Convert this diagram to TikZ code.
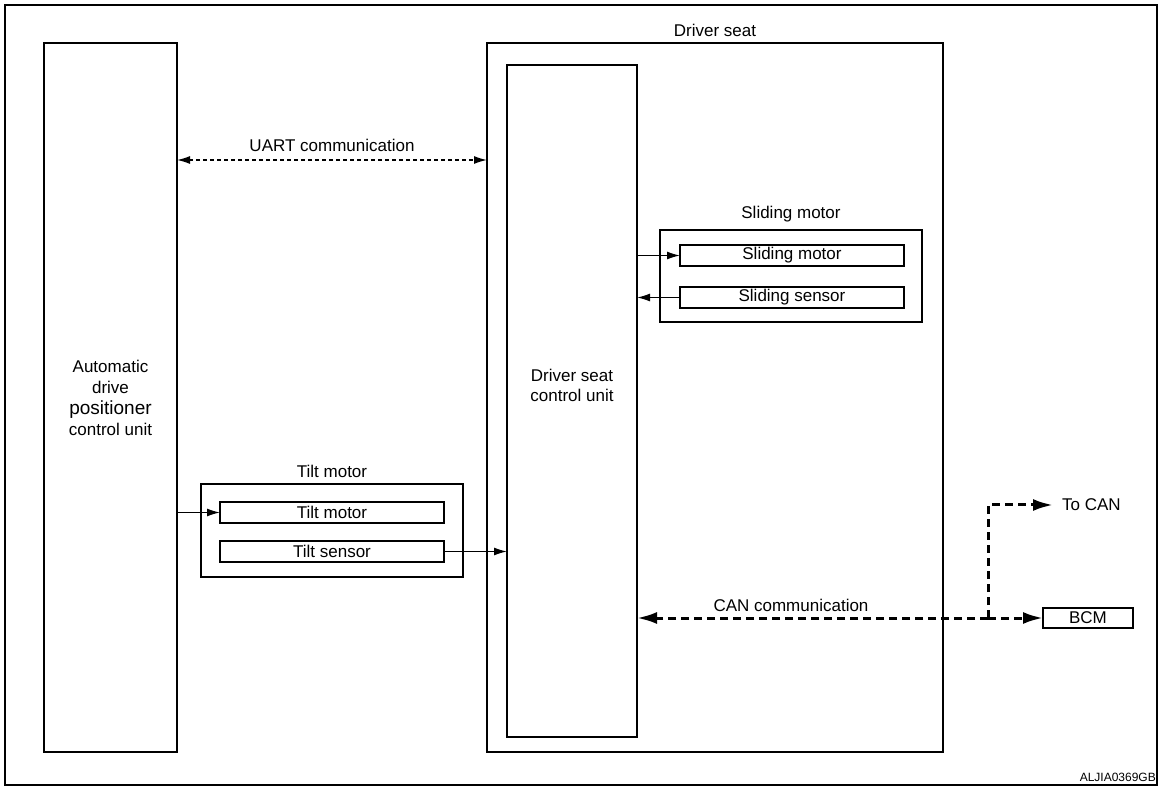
\documentclass[tikz,border=0pt]{standalone}
\usepackage{fontspec}
\setmainfont{Liberation Sans}
\usetikzlibrary{arrows.meta}
\begin{document}
\begin{tikzpicture}[x=1pt,y=-1pt,
  box/.style={draw, line width=1.3pt, inner sep=0pt, outer sep=0pt, anchor=north west, font=\fontsize{17}{19}\selectfont},
  lbl/.style={inner sep=0pt, font=\fontsize{17}{19}\selectfont},
  sarr/.style={-{Latex[length=13pt,width=8pt]}, line width=1.3pt},
  uart/.style={{Latex[length=13pt,width=8pt]}-{Latex[length=13pt,width=8pt]}, dash pattern=on 4pt off 3pt, line width=1.3pt},
  can/.style={-{Latex[length=20pt,width=12pt]}, dash pattern=on 8pt off 5pt, line width=3pt}]
\useasboundingbox (0,0) rectangle (1163,791);
\draw[line width=1.5pt] (5,5) rectangle (1157,785);
\draw[line width=2.5pt] (5,785) -- (1157,785);

% Automatic drive positioner control unit
\node[box, minimum width=133pt, minimum height=709pt] (adpcu) at (44,43) {};
\node[lbl, align=center, font=\fontsize{17}{21}\selectfont] (adpcutext) at (adpcu.center)
  {Automatic\\drive\\{\fontsize{19}{21}\selectfont positioner}\\control unit};

% Driver seat
\node[box, minimum width=456pt, minimum height=709pt] (dseat) at (487,43) {};
\node[lbl] (dseatlbl) at (715,30) {Driver seat};
\node[box, minimum width=130pt, minimum height=672pt] (dscu) at (507,65) {};
\node[lbl, align=center, font=\fontsize{17}{20}\selectfont] (dscutext) at (572,385) {Driver seat\\control unit};

% Sliding motor group
\node[box, minimum width=262pt, minimum height=92pt] (sgroup) at (660,230) {};
\node[lbl] (sgrouplbl) at (791,214) {Sliding motor};
\node[box, minimum width=224pt, minimum height=21pt] (smotor) at (680,245) {Sliding motor};
\node[box, minimum width=224pt, minimum height=21pt] (ssensor) at (680,287) {Sliding sensor};

% Tilt motor group
\node[box, minimum width=262pt, minimum height=93pt] (tgroup) at (201,484) {};
\node[lbl] (tgrouplbl) at (332,471) {Tilt motor};
\node[box, minimum width=224pt, minimum height=21pt] (tmotor) at (220,502) {Tilt motor};
\node[box, minimum width=224pt, minimum height=21pt] (tsensor) at (220,541) {Tilt sensor};

% BCM
\node[box, minimum width=90pt, minimum height=20pt] (bcm) at (1043,608) {BCM};
\node[lbl, anchor=west] (tocan) at (1062,505) {To CAN};

% UART
\coordinate (u) at (0,160);
\draw[uart] (adpcu.east |- u) -- node[lbl, above=8pt] (uartlbl) {UART communication} (dseat.west |- u);

% signal arrows
\draw[sarr] (dscu.east |- smotor.west) -- (smotor.west);
\draw[sarr] (ssensor.west) -- (dscu.east |- ssensor.west);
\draw[sarr] (adpcu.east |- tmotor.west) -- (tmotor.west);
\draw[sarr] (tsensor.east) -- (dscu.west |- tsensor.east);

% CAN
\coordinate (j) at (988,618);
\coordinate (jt) at (988,505);
\draw[can] (j) -- (dscu.east |- j);
\draw[can] (j) -- (bcm.west);
\draw[can] (j) -- (jt) -- ([xshift=-9pt]tocan.west);
\node[lbl] (canlbl) at (791,605) {CAN communication};

\node[inner sep=0pt, anchor=base east, font=\fontsize{12}{14}\selectfont] (code) at (1156,781) {ALJIA0369GB};
\end{tikzpicture}
\end{document}
